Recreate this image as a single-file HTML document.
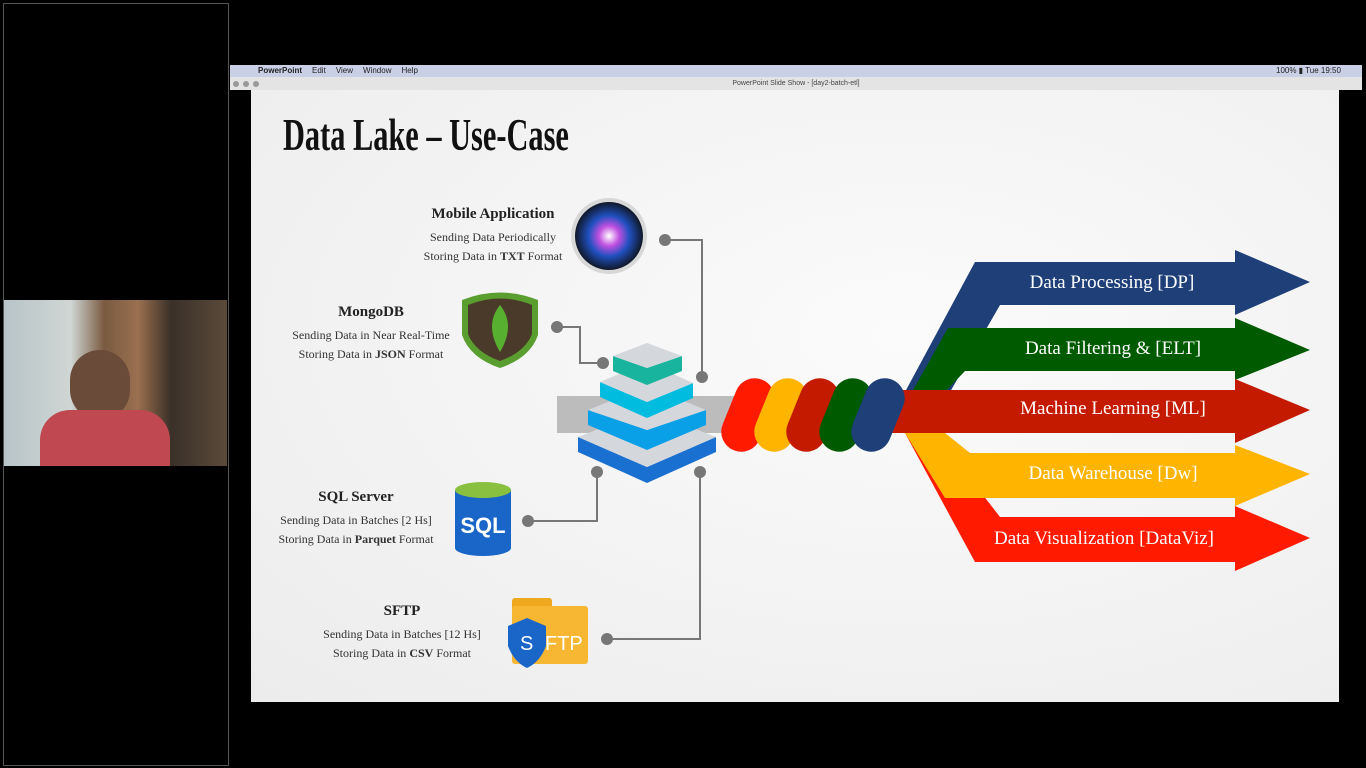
<!DOCTYPE html>
<html><head><meta charset="utf-8"><style>
body{margin:0;width:1366px;height:768px;background:#000;position:relative;overflow:hidden;font-family:"Liberation Sans",sans-serif}
.abs{position:absolute}
.lbl{position:absolute;font-family:"Liberation Serif",serif;color:#333;text-align:center;line-height:19px;font-size:12px}
.lbl b.h{display:block;font-size:15px;color:#222;margin-bottom:4px}
</style></head><body>
<div class="abs" style="left:3px;top:3px;width:224px;height:761px;border:1px solid #555"></div>
<div class="abs" style="left:4px;top:300px;width:223px;height:166px;background:linear-gradient(90deg,#b8c4c8 0%,#cfd6d4 30%,#7a5a40 45%,#9a7050 60%,#3a3028 75%,#5a4a3a 100%)"></div>
<div class="abs" style="left:70px;top:350px;width:60px;height:70px;border-radius:30px;background:#6a4a38"></div>
<div class="abs" style="left:40px;top:410px;width:130px;height:56px;border-radius:30px 30px 0 0;background:#c04850"></div>
<div class="abs" style="left:230px;top:65px;width:1132px;height:12px;background:#c9d0e6;font-size:8px;line-height:12px;color:#222">
<span style="margin-left:28px;font-weight:bold">PowerPoint</span><span style="margin-left:10px">Edit</span><span style="margin-left:10px">View</span><span style="margin-left:10px">Window</span><span style="margin-left:10px">Help</span>
<span style="position:absolute;left:1046px">100% ▮ Tue 19:50</span></div>
<div class="abs" style="left:230px;top:77px;width:1132px;height:13px;background:#e4e4e4;font-size:7px;line-height:13px;color:#444;text-align:center">PowerPoint Slide Show - [day2-batch-etl]</div>
<div class="abs" style="left:233px;top:81px;width:6px;height:6px;border-radius:3px;background:#999;box-shadow:10px 0 #999,20px 0 #999"></div>
<div class="abs" style="left:251px;top:90px;width:1088px;height:612px;background:radial-gradient(ellipse at 60% 40%,#fbfbfb,#ececec)"></div>
<div class="abs" style="left:283px;top:108px;font-family:'Liberation Serif',serif;font-weight:bold;font-size:46px;color:#111;transform:scaleX(0.66);transform-origin:left top;white-space:nowrap">Data Lake – Use-Case</div>

<div class="lbl" style="left:393px;top:205px;width:200px"><b class="h">Mobile Application</b>Sending Data Periodically<br>Storing Data in <b>TXT</b> Format</div>
<div class="lbl" style="left:271px;top:303px;width:200px"><b class="h">MongoDB</b>Sending Data in Near Real-Time<br>Storing Data in <b>JSON</b> Format</div>
<div class="lbl" style="left:256px;top:488px;width:200px"><b class="h">SQL Server</b>Sending Data in Batches [2 Hs]<br>Storing Data in <b>Parquet</b> Format</div>
<div class="lbl" style="left:302px;top:602px;width:200px"><b class="h">SFTP</b>Sending Data in Batches [12 Hs]<br>Storing Data in <b>CSV</b> Format</div>

<svg class="abs" style="left:0;top:0" width="1366" height="768">
<defs><radialGradient id="siri" cx="50%" cy="50%" r="50%"><stop offset="0" stop-color="#fff"/><stop offset=".3" stop-color="#c050e0"/><stop offset=".6" stop-color="#2050c0"/><stop offset="1" stop-color="#101828"/></radialGradient></defs>
<g stroke="#777" stroke-width="2" fill="none">
<polyline points="665,240 702,240 702,377"/>
<polyline points="557,327 580,327 580,363 603,363"/>
<polyline points="528,521 597,521 597,472"/>
<polyline points="607,639 700,639 700,472"/>
</g>
<g fill="#777"><circle cx="665" cy="240" r="6"/><circle cx="702" cy="377" r="6"/><circle cx="557" cy="327" r="6"/><circle cx="603" cy="363" r="6"/><circle cx="528" cy="521" r="6"/><circle cx="597" cy="472" r="6"/><circle cx="607" cy="639" r="6"/><circle cx="700" cy="472" r="6"/></g>
<circle cx="609" cy="236" r="38" fill="#d8d8d8"/><circle cx="609" cy="236" r="34" fill="url(#siri)"/>
<path d="M462,300 Q500,285 538,300 L538,335 Q530,358 500,368 Q470,358 462,335Z" fill="#5a9e30"/>
<path d="M468,305 Q500,292 532,305 L532,334 Q525,352 500,361 Q475,352 468,334Z" fill="#4a3a2a"/>
<path d="M500,305 Q516,325 500,352 Q484,325 500,305Z" fill="#58b030"/>
<rect x="455" y="490" width="56" height="58" fill="#1a66c8"/><ellipse cx="483" cy="548" rx="28" ry="8" fill="#1a66c8"/><ellipse cx="483" cy="490" rx="28" ry="8" fill="#8ac040"/>
<text x="483" y="533" font-family="Liberation Sans" font-weight="bold" font-size="22" fill="#fff" text-anchor="middle">SQL</text>
<rect x="512" y="598" width="40" height="14" rx="3" fill="#f0a820"/><rect x="512" y="606" width="76" height="58" rx="3" fill="#f7b733"/>
<path d="M508,626 L527,618 L546,626 L546,646 Q540,662 527,668 Q514,662 508,646Z" fill="#1a66c8"/>
<text x="520" y="650" font-family="Liberation Sans" font-size="20" fill="#fff">S</text>
<text x="545" y="650" font-family="Liberation Sans" font-size="20" fill="#fff">FTP</text>
<rect x="557" y="396" width="180" height="37" fill="#bcbcbc"/>
<polygon points="578,437 578,452 647,483 716,452 716,437 647,467" fill="#1a70d0"/><polygon points="578,437 647,410 716,437 647,467" fill="#d4d7db"/>
<polygon points="588,410 588,425 647,450 706,425 706,410 647,430" fill="#0aa0e8"/><polygon points="588,410 647,386 706,410 647,430" fill="#d4d7db"/>
<polygon points="600,382 600,397 647,418 693,398 693,383 647,402" fill="#00bde0"/><polygon points="600,382 647,362 693,383 647,402" fill="#d4d7db"/>
<polygon points="613,356 613,371 647,385 682,371 682,356 647,368" fill="#18b49e"/><polygon points="613,356 647,343 682,356 647,368" fill="#d4d7db"/>
<polygon points="905,433 935,433 1000,517 1235,517 1235,506 1310,538 1235,571 1235,562 975,562" fill="#ff1a00"/>
<polygon points="905,433 945,433 970,453 1235,453 1235,445 1310,474 1235,506 1235,498 945,498" fill="#ffb400"/>
<polygon points="975,262 1235,262 1235,250 1310,282 1235,315 1235,305 1000,305 950,392 905,392" fill="#1e3f78"/>
<polygon points="948,328 1235,328 1235,318 1310,350 1235,380 1235,371 965,371 945,392 912,392" fill="#005a00"/>
<polygon points="888,390 1235,390 1235,379 1310,410 1235,443 1235,433 888,433" fill="#c41a00"/>
<g transform="rotate(22 748 415)"><rect x="728" y="377" width="40" height="76" rx="20" fill="#ff1a00"/></g>
<g transform="rotate(22 781 415)"><rect x="761" y="377" width="40" height="76" rx="20" fill="#ffb400"/></g>
<g transform="rotate(22 813 415)"><rect x="793" y="377" width="40" height="76" rx="20" fill="#c41a00"/></g>
<g transform="rotate(22 846 415)"><rect x="826" y="377" width="40" height="76" rx="20" fill="#005a00"/></g>
<g transform="rotate(22 878 415)"><rect x="858" y="377" width="40" height="76" rx="20" fill="#1e3f78"/></g>
<g font-family="Liberation Serif" font-size="19" fill="#fff" text-anchor="middle">
<text x="1112" y="288">Data Processing [DP]</text>
<text x="1113" y="354">Data Filtering &amp; [ELT]</text>
<text x="1113" y="414">Machine Learning [ML]</text>
<text x="1113" y="479">Data Warehouse [Dw]</text>
<text x="1104" y="544">Data Visualization [DataViz]</text>
</g>
</svg>
</body></html>
